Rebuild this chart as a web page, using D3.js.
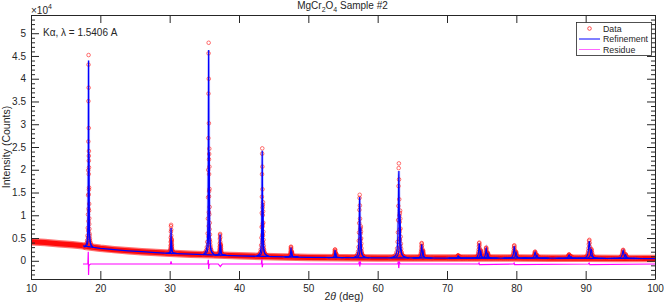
<!DOCTYPE html>
<html>
<head>
<meta charset="utf-8">
<title>MgCr2O4 Sample #2</title>
<script src="https://cdn.jsdelivr.net/npm/d3@7"></script>
<style>
  body { margin: 0; background: #fff; }
  text { font-family: "Liberation Sans", Arial, Helvetica, sans-serif; fill: #262626; }
</style>
</head>
<body>
<script>
// background level under the pattern (counts)
const bgAngle  = [10, 12, 14, 16, 17.5, 18, 20, 22, 24, 26, 28, 30, 33, 36, 40, 45, 50, 55, 60, 65, 70, 75, 80, 85, 90, 95, 100];
const bgCounts = [4200, 4000, 3750, 3500, 3280, 3150, 2750, 2450, 2200, 2000, 1800, 1650, 1450, 1300, 1100, 900, 750, 680, 640, 620, 600, 600, 590, 570, 550, 520, 480];

// reflections: position, base level, observed and refined apex (counts)
const peakAngle = [18.3, 30.2, 35.62, 37.27, 43.35, 47.5, 53.85, 57.4, 63.05, 66.35, 71.6, 74.65, 75.65, 79.7, 82.7, 87.6, 90.52, 95.4];
const peakBase  = [3000, 1650, 1350, 1250, 1050, 850, 700, 660, 630, 620, 600, 600, 600, 590, 580, 560, 550, 520];
const obsTop    = [45200, 7900, 47900, 5900, 24700, 3100, 2500, 14500, 21400, 3900, 1200, 4000, 2900, 3400, 2000, 1400, 4600, 2400];
const calcTop   = [44000, 7200, 46300, 5800, 24200, 2900, 2350, 14000, 19700, 3600, 1100, 3800, 2700, 3200, 1900, 1300, 4300, 2250];
const peakWidth = [1.0, 1.2, 1.3, 1.3, 1.4, 1.6, 1.8, 2.0, 2.2, 2.3, 2.5, 2.6, 2.6, 2.8, 3.0, 3.2, 3.4, 3.7];
const ka2Shift  = [0.05, 0.08, 0.09, 0.10, 0.11, 0.12, 0.14, 0.16, 0.18, 0.19, 0.21, 0.22, 0.23, 0.25, 0.26, 0.29, 0.30, 0.34];
const ka2Ratio  = 0.5;

// shape of one reflection (offset in deg, fraction of height)
const profileDx   = [-0.6, -0.4, -0.28, -0.2, -0.15, -0.11, -0.08, -0.06, -0.045, -0.032, -0.02, -0.008, 0.004, 0.016, 0.028, 0.04, 0.055, 0.075, 0.1, 0.14, 0.19, 0.26, 0.38, 0.6];
const profileFrac = [0, 0.01, 0.02, 0.035, 0.06, 0.1, 0.17, 0.27, 0.4, 0.55, 0.76, 0.95, 1.0, 0.83, 0.62, 0.45, 0.3, 0.19, 0.12, 0.07, 0.045, 0.025, 0.012, 0];

// residue (obs - calc, offset), counts
const resAngle  = [17.5, 18.2, 18.26, 18.3, 18.34, 18.42, 18.6, 30.12, 30.2, 30.28, 35.5, 35.58, 35.63, 35.68, 35.8, 37.0, 37.3, 37.6, 43.22, 43.3, 43.36, 43.42, 43.55, 57.28, 57.36, 57.42, 57.5, 57.6, 62.9, 62.98, 63.04, 63.12, 63.25, 74.55, 74.62, 74.7, 79.6, 79.68, 79.76, 90.4, 90.5, 90.6, 100];
const resCounts = [-700, -700, 2000, -3100, -1200, -900, -700, -700, -150, -700, -700, 200, -1800, -900, -700, -700, -1250, -700, -700, 400, -1400, -800, -700, -700, -150, -1250, -350, -700, -700, -150, -1600, -300, -700, -700, -500, -850, -700, -500, -850, -700, -500, -850, -700];

const xTicks = [10, 20, 30, 40, 50, 60, 70, 80, 90, 100];
const yTicks = [0, 5000, 10000, 15000, 20000, 25000, 30000, 35000, 40000, 45000, 50000];

const width = 664, height = 308;
const plotL = 31, plotR = 655, plotT = 15, plotB = 279;

const svg = d3.select("body").append("svg")
    .attr("width", width)
    .attr("height", height);

const x = d3.scaleLinear().domain([10, 100]).range([plotL, plotR]);
const y = d3.scaleLinear().domain([-4000, 54000]).range([plotB, plotT]);

svg.append("clipPath").attr("id", "plot")
  .append("rect").attr("x", plotL).attr("y", plotT).attr("width", plotR - plotL).attr("height", plotB - plotT);

const line = d3.line().x(d => x(d[0])).y(d => y(d[1]));

const bgPoints = bgAngle.map((a, i) => [a, bgCounts[i]]);

function component(i, apex, shift, ratio) {
  return profileDx.map((d, k) => [
    peakAngle[i] + shift + d * peakWidth[i],
    peakBase[i] + profileFrac[k] * (apex - peakBase[i]) * ratio
  ]);
}

const obsPeaks = [], calcPeaks = [], calcKa2 = [];
peakAngle.forEach((p, i) => {
  obsPeaks.push(component(i, obsTop[i], 0, 1));
  obsPeaks.push(component(i, obsTop[i], ka2Shift[i], ka2Ratio));
  calcPeaks.push(component(i, calcTop[i], 0, 1));
  calcKa2.push(component(i, calcTop[i], ka2Shift[i], ka2Ratio));
});

const g = svg.append("g").attr("clip-path", "url(#plot)");

// observed data: dense red band
g.append("path").datum(bgPoints)
  .attr("d", line).attr("fill", "none")
  .attr("stroke", "#ff7070").attr("stroke-width", 7.5).attr("stroke-linejoin", "round");
g.append("path").datum(bgPoints)
  .attr("d", line).attr("fill", "none")
  .attr("stroke", "#ff0a0a").attr("stroke-width", 5).attr("stroke-linejoin", "round");

// soft edge of the refinement peaks
g.append("g").selectAll("path")
  .data(calcPeaks)
  .join("path")
    .attr("d", line).attr("fill", "none")
    .attr("stroke", "#7a7aff").attr("stroke-opacity", 0.45).attr("stroke-width", 2.6);

// observed data circles on the reflections
g.append("g")
  .selectAll("circle")
  .data(obsPeaks.flat())
  .join("circle")
    .attr("cx", d => x(d[0]))
    .attr("cy", d => y(d[1]))
    .attr("r", 1.8)
    .attr("fill", "none")
    .attr("stroke", "#ff2020")
    .attr("stroke-opacity", 0.8)
    .attr("stroke-width", 0.8);

// refinement
g.append("path").datum(bgPoints.filter(d => d[0] >= 17.5))
  .attr("d", line).attr("fill", "none")
  .attr("stroke", "#0000ff").attr("stroke-width", 1.3);

g.append("g").selectAll("path")
  .data(calcPeaks.concat(calcKa2))
  .join("path")
    .attr("d", line).attr("fill", "none")
    .attr("stroke", "#0000ff").attr("stroke-width", 1.1);

// residue
g.append("path").datum(resAngle.map((a, i) => [a, resCounts[i]]))
  .attr("d", line).attr("fill", "none")
  .attr("stroke", "#ff00ff").attr("stroke-width", 1.2);

// axes (ticks inward, box)
const axisColor = "#262626";
function style(sel) {
  sel.selectAll("line").attr("stroke", axisColor);
  sel.selectAll("path").attr("stroke", axisColor);
  sel.selectAll("text").attr("fill", axisColor).style("font-size", "10px")
    .style("font-family", '"Liberation Sans", Arial, sans-serif');
}

svg.append("g").attr("transform", `translate(0,${plotB})`)
  .call(d3.axisBottom(x).tickValues(xTicks).tickSize(-8).tickSizeOuter(0).tickPadding(5.5))
  .call(style);
svg.append("g").attr("transform", `translate(0,${plotT})`)
  .call(d3.axisTop(x).tickValues(xTicks).tickSize(-8).tickSizeOuter(0).tickFormat(""))
  .call(style);

const minorY = d3.range(-4000, 54001, 1000).filter(v => v % 5000 !== 0);
svg.append("g").attr("transform", `translate(${plotL},0)`)
  .call(d3.axisLeft(y).tickValues(yTicks).tickSize(-8).tickSizeOuter(0).tickPadding(5)
    .tickFormat(v => d3.format("~g")(v / 1e4)))
  .call(style);
svg.append("g").attr("transform", `translate(${plotL},0)`)
  .call(d3.axisLeft(y).tickValues(minorY).tickSize(-4).tickFormat(""))
  .call(s => s.select(".domain").remove())
  .call(style);
svg.append("g").attr("transform", `translate(${plotR},0)`)
  .call(d3.axisRight(y).tickValues(yTicks).tickSize(-8).tickSizeOuter(0).tickFormat(""))
  .call(style);
svg.append("g").attr("transform", `translate(${plotR},0)`)
  .call(d3.axisRight(y).tickValues(minorY).tickSize(-4).tickFormat(""))
  .call(s => s.select(".domain").remove())
  .call(style);

// texts
const title = svg.append("text").attr("x", 342.5).attr("y", 9)
  .attr("text-anchor", "middle").style("font-size", "10px");
title.append("tspan").text("MgCr");
title.append("tspan").attr("dy", 3).style("font-size", "7px").text("2");
title.append("tspan").attr("dy", -3).text("O");
title.append("tspan").attr("dy", 3).style("font-size", "7px").text("4");
title.append("tspan").attr("dy", -3).text(" Sample #2");

const exp = svg.append("text").attr("x", 31).attr("y", 14).style("font-size", "10px");
exp.append("tspan").text("×10");
exp.append("tspan").attr("dy", -5).style("font-size", "7px").text("4");

svg.append("text").attr("x", 43).attr("y", 36).style("font-size", "10px")
  .text("Kα, λ = 1.5406 A");

const xl = svg.append("text").attr("x", 344).attr("y", 300)
  .attr("text-anchor", "middle").style("font-size", "10.5px");
xl.append("tspan").text("2");
xl.append("tspan").style("font-style", "italic").text("θ");
xl.append("tspan").text(" (deg)");

svg.append("text")
  .attr("transform", "translate(9.5,147) rotate(-90)")
  .attr("text-anchor", "middle").style("font-size", "10.5px")
  .text("Intensity (Counts)");

// legend
const legend = svg.append("g");
legend.append("rect")
  .attr("x", 576.5).attr("y", 22.5).attr("width", 75).attr("height", 33)
  .attr("fill", "#fff").attr("stroke", axisColor).attr("stroke-width", 0.8);
const entries = [
  {name: "Data", y: 28.5},
  {name: "Refinement", y: 39},
  {name: "Residue", y: 49.5}
];
legend.append("circle").attr("cx", 589.5).attr("cy", entries[0].y).attr("r", 1.8)
  .attr("fill", "none").attr("stroke", "#ff2020").attr("stroke-width", 0.8);
legend.append("line").attr("x1", 579).attr("x2", 600).attr("y1", entries[1].y).attr("y2", entries[1].y)
  .attr("stroke", "#0000ff").attr("stroke-width", 1);
legend.append("line").attr("x1", 579).attr("x2", 600).attr("y1", entries[2].y).attr("y2", entries[2].y)
  .attr("stroke", "#ff66ff").attr("stroke-width", 1);
legend.selectAll("text.lab").data(entries).join("text")
  .attr("x", 603).attr("y", d => d.y).attr("dy", "0.35em")
  .style("font-size", "8.8px").text(d => d.name);
</script>
</body>
</html>
